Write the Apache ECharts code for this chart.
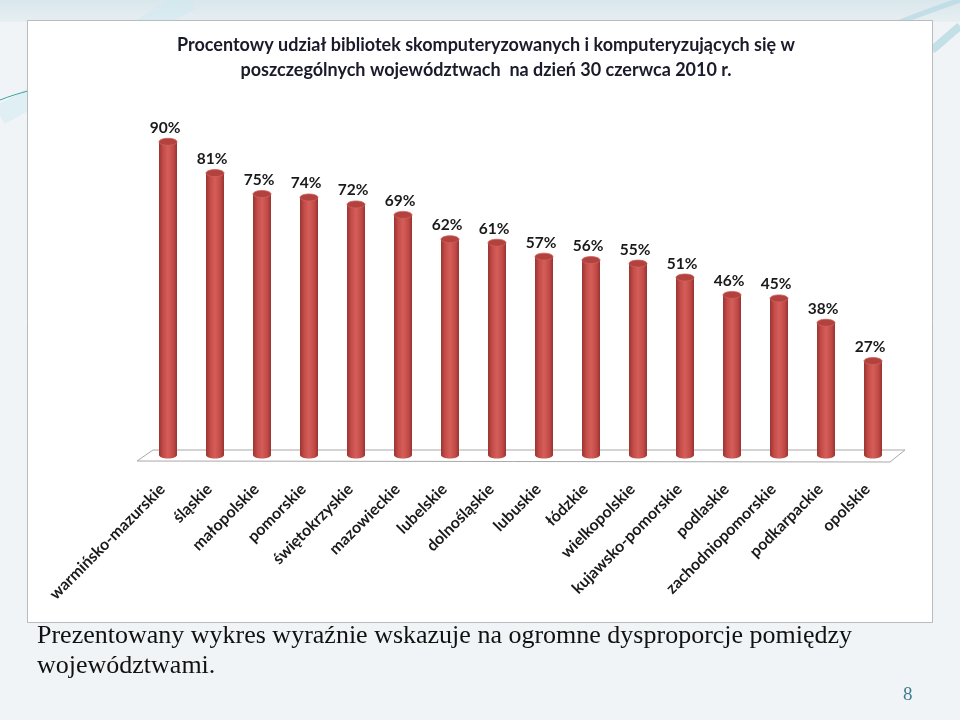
<!DOCTYPE html>
<html><head><meta charset="utf-8">
<script src="https://cdn.jsdelivr.net/npm/echarts@6/dist/echarts.min.js"></script>
<style>html,body{margin:0;padding:0;background:#f1f4f6}#c{width:960px;height:720px}</style>
</head><body><div id="c"></div>
<script>
const categories = ['warmińsko-mazurskie','śląskie','małopolskie','pomorskie','świętokrzyskie','mazowieckie','lubelskie','dolnośląskie','lubuskie','łódzkie','wielkopolskie','kujawsko-pomorskie','podlaskie','zachodniopomorskie','podkarpackie','opolskie'];
const values = [90,81,75,74,72,69,62,61,57,56,55,51,46,45,38,27];
const titleText = 'Procentowy udział bibliotek skomputeryzowanych i komputeryzujących się w\nposzczególnych województwach  na dzień 30 czerwca 2010 r.';
const noteLine1 = 'Prezentowany wykres wyraźnie wskazuje na ogromne dysproporcje pomiędzy';
const noteLine2 = 'województwami.';
const pageNo = '8';

const chart = echarts.init(document.getElementById('c'), null, {renderer:'canvas'});
const bodyGrad = () => new echarts.graphic.LinearGradient(0,0,1,0,[
  {offset:0,color:'#9a3532'},{offset:0.25,color:'#c64d49'},{offset:0.5,color:'#d45e59'},{offset:0.8,color:'#c24a46'},{offset:1,color:'#973331'}]);

chart.setOption({
  backgroundColor:'#f1f4f6',
  animation:false,
  title:{text:titleText,left:481,top:28,textAlign:'center',
    textStyle:{fontFamily:'Lato',fontWeight:'bold',fontSize:18,color:'#1a1a2a',lineHeight:25}},
  grid:{left:144.5,width:752,top:107,height:348},
  xAxis:{type:'category',data:categories,axisLine:{show:false},axisTick:{show:false},
    axisLabel:{interval:0,rotate:45,margin:26,padding:[0,8,0,0],fontFamily:'Lato',fontWeight:'bold',fontSize:16,color:'#1a1a1a'}},
  yAxis:{type:'value',min:0,max:100,show:false,splitLine:{show:false}},
  series:[{
    type:'custom',
    data:values.map((v,i)=>[i,v]),
    renderItem:function(params,api){
      const top = api.coord([api.value(0),api.value(1)]);
      const bot = api.coord([api.value(0),0]);
      const w = 18, ry = 3.5, cx = top[0];
      return {type:'group',children:[
        {type:'ellipse',shape:{cx:cx,cy:bot[1],rx:w/2,ry:ry},style:{fill:bodyGrad()}},
        {type:'rect',shape:{x:cx-w/2,y:top[1],width:w,height:bot[1]-top[1]},style:{fill:bodyGrad()}},
        {type:'ellipse',shape:{cx:cx,cy:top[1],rx:w/2,ry:ry},style:{fill:'#b3413e',stroke:'#cc6561',lineWidth:0.8}},
        {type:'text',x:cx-3,y:top[1]-14,style:{text:api.value(1)+'%',textAlign:'center',textVerticalAlign:'middle',
          font:'bold 15.5px Lato',fill:'#1a1a1a'}}
      ]};
    }
  }]
});

const p0 = chart.convertToPixel({gridIndex:0},[0,0]);
const p1 = chart.convertToPixel({gridIndex:0},[categories.length-1,0]);
const half = (p1[0]-p0[0])/(categories.length-1)/2;
const L = p0[0]-half, R = p1[0]+half, Y = p0[1];

chart.setOption({graphic:[
  {type:'rect',z:-10,shape:{x:0,y:0,width:960,height:22},style:{fill:new echarts.graphic.LinearGradient(0,0,0,1,[{offset:0,color:'#d9e7ec'},{offset:1,color:'#e7eef1'}])}},
  {type:'bezierCurve',z:-9,shape:{x1:0,y1:115,cpx1:50,cpy1:90,cpx2:110,cpy2:45,x2:190,y2:0},style:{stroke:'#cdeaf0',lineWidth:20,fill:null,opacity:0.5}},
  {type:'bezierCurve',z:-9,shape:{x1:0,y1:100,cpx1:10,cpy1:96,cpx2:20,cpy2:93,x2:28,y2:91},style:{stroke:'#3aa79c',lineWidth:1,fill:null}},
  {type:'bezierCurve',z:-9,shape:{x1:900,y1:22,cpx1:920,cpy1:14,cpx2:940,cpy2:7,x2:960,y2:0},style:{stroke:'#b5d9e3',lineWidth:5,fill:null,opacity:0.7}},
  {type:'bezierCurve',z:-9,shape:{x1:932,y1:50,cpx1:942,cpy1:42,cpx2:950,cpy2:34,x2:960,y2:26},style:{stroke:'#a7d2de',lineWidth:8,fill:null,opacity:0.6}},
  {type:'rect',z:-5,shape:{x:27.5,y:20.5,width:905,height:602},style:{fill:'#ffffff',stroke:'#b9bcbf',lineWidth:1}},
  {type:'polygon',z:-1,shape:{points:[[L-7.5,Y+6],[L+8.5,Y-5],[R+8.5,Y-5],[R-6.5,Y+7]]},style:{fill:'#ffffff',stroke:'#a9a9a9',lineWidth:1}},
  {type:'text',x:37,y:623,style:{text:noteLine1,font:'26px "Liberation Serif"',fill:'#111111'}},
  {type:'text',x:37,y:653,style:{text:noteLine2,font:'26px "Liberation Serif"',fill:'#111111'}},
  {type:'text',x:903,y:686,style:{text:pageNo,font:'19px "Liberation Serif"',fill:'#3d7d90'}}
]});
</script></body></html>
